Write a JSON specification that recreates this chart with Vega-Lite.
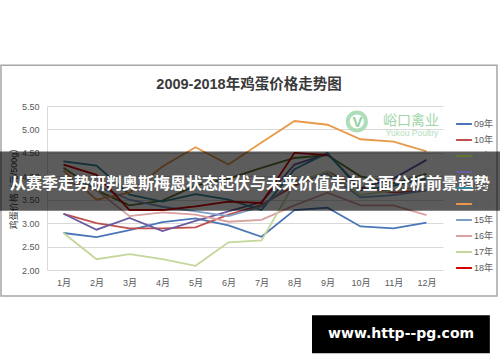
{
  "$schema": "https://vega.github.io/schema/vega-lite/v6.json",
  "width": 396,
  "height": 164,
  "autosize": {"type": "none"},
  "padding": {"left": 47, "top": 106, "right": 57, "bottom": 92},
  "background": "white",
  "config": {
    "view": {"stroke": null},
    "font": "Liberation Sans, Noto Sans CJK SC, sans-serif"
  },
  "title": {
    "text": "2009-2018年鸡蛋价格走势图",
    "fontSize": 14.5,
    "fontWeight": "bold",
    "color": "#3a3a3a",
    "font": "Liberation Sans, Noto Sans CJK SC",
    "anchor": "middle",
    "frame": "group",
    "offset": -28,
    "dx": 4
  },
  "datasets": {
    "eggs": [
      {"month": 1, "year": "09年", "price": 2.79}, {"month": 2, "year": "09年", "price": 2.70}, {"month": 3, "year": "09年", "price": 2.85}, {"month": 4, "year": "09年", "price": 3.02}, {"month": 5, "year": "09年", "price": 3.10}, {"month": 6, "year": "09年", "price": 2.95}, {"month": 7, "year": "09年", "price": 2.71}, {"month": 8, "year": "09年", "price": 3.28}, {"month": 9, "year": "09年", "price": 3.33}, {"month": 10, "year": "09年", "price": 2.93}, {"month": 11, "year": "09年", "price": 2.89}, {"month": 12, "year": "09年", "price": 3.01},
      {"month": 1, "year": "10年", "price": 3.20}, {"month": 2, "year": "10年", "price": 3.00}, {"month": 3, "year": "10年", "price": 2.89}, {"month": 4, "year": "10年", "price": 2.89}, {"month": 5, "year": "10年", "price": 2.91}, {"month": 6, "year": "10年", "price": 3.18}, {"month": 7, "year": "10年", "price": 3.39}, {"month": 8, "year": "10年", "price": 3.80}, {"month": 9, "year": "10年", "price": 4.10}, {"month": 10, "year": "10年", "price": 3.75}, {"month": 11, "year": "10年", "price": 3.65}, {"month": 12, "year": "10年", "price": 3.70},
      {"month": 1, "year": "11年", "price": 4.18}, {"month": 2, "year": "11年", "price": 3.70}, {"month": 3, "year": "11年", "price": 3.38}, {"month": 4, "year": "11年", "price": 3.48}, {"month": 5, "year": "11年", "price": 3.80}, {"month": 6, "year": "11年", "price": 3.95}, {"month": 7, "year": "11年", "price": 4.18}, {"month": 8, "year": "11年", "price": 4.39}, {"month": 9, "year": "11年", "price": 4.45}, {"month": 10, "year": "11年", "price": 4.00}, {"month": 11, "year": "11年", "price": 3.85}, {"month": 12, "year": "11年", "price": 4.05},
      {"month": 1, "year": "12年", "price": 3.20}, {"month": 2, "year": "12年", "price": 2.86}, {"month": 3, "year": "12年", "price": 3.11}, {"month": 4, "year": "12年", "price": 2.83}, {"month": 5, "year": "12年", "price": 3.05}, {"month": 6, "year": "12年", "price": 3.25}, {"month": 7, "year": "12年", "price": 3.45}, {"month": 8, "year": "12年", "price": 4.25}, {"month": 9, "year": "12年", "price": 4.48}, {"month": 10, "year": "12年", "price": 3.75}, {"month": 11, "year": "12年", "price": 3.95}, {"month": 12, "year": "12年", "price": 4.35},
      {"month": 1, "year": "13年", "price": 4.32}, {"month": 2, "year": "13年", "price": 4.23}, {"month": 3, "year": "13年", "price": 3.61}, {"month": 4, "year": "13年", "price": 3.46}, {"month": 5, "year": "13年", "price": 3.62}, {"month": 6, "year": "13年", "price": 3.50}, {"month": 7, "year": "13年", "price": 3.28}, {"month": 8, "year": "13年", "price": 4.15}, {"month": 9, "year": "13年", "price": 4.50}, {"month": 10, "year": "13年", "price": 3.70}, {"month": 11, "year": "13年", "price": 3.80}, {"month": 12, "year": "13年", "price": 3.95},
      {"month": 1, "year": "14年", "price": 4.12}, {"month": 2, "year": "14年", "price": 3.50}, {"month": 3, "year": "14年", "price": 3.65}, {"month": 4, "year": "14年", "price": 4.21}, {"month": 5, "year": "14年", "price": 4.62}, {"month": 6, "year": "14年", "price": 4.25}, {"month": 7, "year": "14年", "price": 4.72}, {"month": 8, "year": "14年", "price": 5.18}, {"month": 9, "year": "14年", "price": 5.10}, {"month": 10, "year": "14年", "price": 4.79}, {"month": 11, "year": "14年", "price": 4.74}, {"month": 12, "year": "14年", "price": 4.53},
      {"month": 1, "year": "15年", "price": 3.95}, {"month": 2, "year": "15年", "price": 3.80}, {"month": 3, "year": "15年", "price": 3.50}, {"month": 4, "year": "15年", "price": 3.35}, {"month": 5, "year": "15年", "price": 3.25}, {"month": 6, "year": "15年", "price": 3.15}, {"month": 7, "year": "15年", "price": 3.35}, {"month": 8, "year": "15年", "price": 3.90}, {"month": 9, "year": "15年", "price": 4.05}, {"month": 10, "year": "15年", "price": 3.55}, {"month": 11, "year": "15年", "price": 3.60}, {"month": 12, "year": "15年", "price": 3.70},
      {"month": 1, "year": "16年", "price": 3.90}, {"month": 2, "year": "16年", "price": 3.70}, {"month": 3, "year": "16年", "price": 3.15}, {"month": 4, "year": "16年", "price": 3.23}, {"month": 5, "year": "16年", "price": 3.18}, {"month": 6, "year": "16年", "price": 3.03}, {"month": 7, "year": "16年", "price": 3.07}, {"month": 8, "year": "16年", "price": 3.38}, {"month": 9, "year": "16年", "price": 3.65}, {"month": 10, "year": "16年", "price": 3.38}, {"month": 11, "year": "16年", "price": 3.38}, {"month": 12, "year": "16年", "price": 3.17},
      {"month": 1, "year": "17年", "price": 2.79}, {"month": 2, "year": "17年", "price": 2.23}, {"month": 3, "year": "17年", "price": 2.34}, {"month": 4, "year": "17年", "price": 2.23}, {"month": 5, "year": "17年", "price": 2.09}, {"month": 6, "year": "17年", "price": 2.59}, {"month": 7, "year": "17年", "price": 2.63}, {"month": 8, "year": "17年", "price": 3.85}, {"month": 9, "year": "17年", "price": 4.10}, {"month": 10, "year": "17年", "price": 3.60}, {"month": 11, "year": "17年", "price": 3.70}, {"month": 12, "year": "17年", "price": 3.80},
      {"month": 1, "year": "18年", "price": 4.25}, {"month": 2, "year": "18年", "price": 4.03}, {"month": 3, "year": "18年", "price": 3.28}, {"month": 4, "year": "18年", "price": 3.28}, {"month": 5, "year": "18年", "price": 3.36}, {"month": 6, "year": "18年", "price": 3.46}, {"month": 7, "year": "18年", "price": 3.43}, {"month": 8, "year": "18年", "price": 4.50}, {"month": 9, "year": "18年", "price": 4.45}
    ]
  },
  "layer": [
    {
      "data": {"values": [{}]},
      "mark": {"type": "rect", "fill": null, "stroke": "#a6a6a6", "strokeWidth": 1.5, "clip": false},
      "encoding": {
        "x": {"datum": -0.894, "type": "quantitative", "scale": {"domain": [0.5, 12.5], "nice": false, "zero": false},
          "axis": {"title": null, "values": [1,2,3,4,5,6,7,8,9,10,11,12], "labelExpr": "datum.value + '月'", "grid": false, "domain": false, "ticks": false, "labelPadding": 8, "labelFontSize": 9, "labelColor": "#595959", "labelFont": "Liberation Sans, Noto Sans CJK SC"}},
        "x2": {"datum": 14.136},
        "y": {"datum": 6.368, "type": "quantitative", "scale": {"domain": [2, 5.5], "nice": false, "zero": false},
          "axis": {"title": "鸡蛋价格（元/500g）", "titleFontSize": 9, "titleFontWeight": "normal", "titleColor": "#333333", "titleX": -34, "titleY": 80, "titleAngle": -90, "titleAlign": "center", "titleBaseline": "middle", "titleFont": "Liberation Sans, Noto Sans CJK SC", "values": [2, 2.5, 3, 3.5, 4, 4.5, 5, 5.5], "format": ".2f", "grid": true, "gridColor": "#d9d9d9", "domain": true, "domainColor": "#d9d9d9", "ticks": false, "labelPadding": 8, "labelFontSize": 9, "labelColor": "#595959", "labelFont": "Liberation Sans"}},
        "y2": {"datum": 1.443}
      }
    },
    {
      "data": {"name": "eggs"},
      "mark": {"type": "line", "strokeWidth": 1.8, "interpolate": "linear"},
      "encoding": {
        "x": {"field": "month", "type": "quantitative", "scale": {"domain": [0.5, 12.5], "nice": false, "zero": false},
          "axis": {"title": null, "values": [1,2,3,4,5,6,7,8,9,10,11,12], "labelExpr": "datum.value + '月'", "grid": false, "domain": false, "ticks": false, "labelPadding": 8, "labelFontSize": 9, "labelColor": "#595959", "labelFont": "Liberation Sans, Noto Sans CJK SC"}},
        "y": {"field": "price", "type": "quantitative", "scale": {"domain": [2, 5.5], "nice": false, "zero": false},
          "axis": {"title": "鸡蛋价格（元/500g）", "titleFontSize": 9, "titleFontWeight": "normal", "titleColor": "#333333", "titleX": -34, "titleY": 80, "titleAngle": -90, "titleAlign": "center", "titleBaseline": "middle", "titleFont": "Liberation Sans, Noto Sans CJK SC", "values": [2, 2.5, 3, 3.5, 4, 4.5, 5, 5.5], "format": ".2f", "grid": true, "gridColor": "#d9d9d9", "domain": true, "domainColor": "#d9d9d9", "ticks": false, "labelPadding": 8, "labelFontSize": 9, "labelColor": "#595959", "labelFont": "Liberation Sans"}},
        "color": {
          "field": "year", "type": "nominal",
          "scale": {
            "domain": ["09年","10年","11年","12年","13年","14年","15年","16年","17年","18年"],
            "range": ["#4a76b8","#c0504d","#5f7530","#6a5a9e","#31859c","#e8994a","#7f9fc8","#d9a0a0","#c4d79b","#d40000"]
          },
          "legend": {
            "title": null, "orient": "none", "legendX": 408, "legendY": 12,
            "symbolType": "stroke", "symbolStrokeWidth": 2, "symbolSize": 250,
            "labelFontSize": 9, "labelColor": "#595959", "labelOffset": 1,
            "rowPadding": 4.0, "clipHeight": 12, "padding": 0
          }
        },
        "order": {"field": "month", "type": "quantitative"}
      }
    },
    {
      "data": {"values": [{}]},
      "mark": {"type": "point", "shape": "circle", "filled": false, "stroke": "#a6dbb0", "strokeWidth": 4, "size": 330, "opacity": 0.9, "clip": false},
      "encoding": {
        "x": {"datum": 9.89, "type": "quantitative", "scale": {"domain": [0.5, 12.5], "nice": false, "zero": false},
          "axis": {"title": null, "values": [1,2,3,4,5,6,7,8,9,10,11,12], "labelExpr": "datum.value + '月'", "grid": false, "domain": false, "ticks": false, "labelPadding": 8, "labelFontSize": 9, "labelColor": "#595959", "labelFont": "Liberation Sans, Noto Sans CJK SC"}},
        "y": {"datum": 5.17, "type": "quantitative", "scale": {"domain": [2, 5.5], "nice": false, "zero": false},
          "axis": {"title": "鸡蛋价格（元/500g）", "titleFontSize": 9, "titleFontWeight": "normal", "titleColor": "#333333", "titleX": -34, "titleY": 80, "titleAngle": -90, "titleAlign": "center", "titleBaseline": "middle", "titleFont": "Liberation Sans, Noto Sans CJK SC", "values": [2, 2.5, 3, 3.5, 4, 4.5, 5, 5.5], "format": ".2f", "grid": true, "gridColor": "#d9d9d9", "domain": true, "domainColor": "#d9d9d9", "ticks": false, "labelPadding": 8, "labelFontSize": 9, "labelColor": "#595959", "labelFont": "Liberation Sans"}}
      }
    },
    {
      "data": {"values": [{}]},
      "mark": {"type": "text", "text": "V", "fontSize": 15, "fontWeight": "bold", "color": "#8fd19e", "clip": false, "font": "Liberation Sans"},
      "encoding": {
        "x": {"datum": 9.91, "type": "quantitative", "scale": {"domain": [0.5, 12.5], "nice": false, "zero": false},
          "axis": {"title": null, "values": [1,2,3,4,5,6,7,8,9,10,11,12], "labelExpr": "datum.value + '月'", "grid": false, "domain": false, "ticks": false, "labelPadding": 8, "labelFontSize": 9, "labelColor": "#595959", "labelFont": "Liberation Sans, Noto Sans CJK SC"}},
        "y": {"datum": 5.15, "type": "quantitative", "scale": {"domain": [2, 5.5], "nice": false, "zero": false},
          "axis": {"title": "鸡蛋价格（元/500g）", "titleFontSize": 9, "titleFontWeight": "normal", "titleColor": "#333333", "titleX": -34, "titleY": 80, "titleAngle": -90, "titleAlign": "center", "titleBaseline": "middle", "titleFont": "Liberation Sans, Noto Sans CJK SC", "values": [2, 2.5, 3, 3.5, 4, 4.5, 5, 5.5], "format": ".2f", "grid": true, "gridColor": "#d9d9d9", "domain": true, "domainColor": "#d9d9d9", "ticks": false, "labelPadding": 8, "labelFontSize": 9, "labelColor": "#595959", "labelFont": "Liberation Sans"}}
      }
    },
    {
      "data": {"values": [{}]},
      "mark": {"type": "text", "text": "峪口禽业", "fontSize": 14, "color": "#9fd6a8", "clip": false, "font": "Noto Sans CJK SC"},
      "encoding": {
        "x": {"datum": 11.53, "type": "quantitative", "scale": {"domain": [0.5, 12.5], "nice": false, "zero": false},
          "axis": {"title": null, "values": [1,2,3,4,5,6,7,8,9,10,11,12], "labelExpr": "datum.value + '月'", "grid": false, "domain": false, "ticks": false, "labelPadding": 8, "labelFontSize": 9, "labelColor": "#595959", "labelFont": "Liberation Sans, Noto Sans CJK SC"}},
        "y": {"datum": 5.19, "type": "quantitative", "scale": {"domain": [2, 5.5], "nice": false, "zero": false},
          "axis": {"title": "鸡蛋价格（元/500g）", "titleFontSize": 9, "titleFontWeight": "normal", "titleColor": "#333333", "titleX": -34, "titleY": 80, "titleAngle": -90, "titleAlign": "center", "titleBaseline": "middle", "titleFont": "Liberation Sans, Noto Sans CJK SC", "values": [2, 2.5, 3, 3.5, 4, 4.5, 5, 5.5], "format": ".2f", "grid": true, "gridColor": "#d9d9d9", "domain": true, "domainColor": "#d9d9d9", "ticks": false, "labelPadding": 8, "labelFontSize": 9, "labelColor": "#595959", "labelFont": "Liberation Sans"}}
      }
    },
    {
      "data": {"values": [{}]},
      "mark": {"type": "text", "text": "Yukou Poultry", "fontSize": 8.5, "color": "#b5ddbb", "clip": false, "font": "Liberation Sans"},
      "encoding": {
        "x": {"datum": 11.56, "type": "quantitative", "scale": {"domain": [0.5, 12.5], "nice": false, "zero": false},
          "axis": {"title": null, "values": [1,2,3,4,5,6,7,8,9,10,11,12], "labelExpr": "datum.value + '月'", "grid": false, "domain": false, "ticks": false, "labelPadding": 8, "labelFontSize": 9, "labelColor": "#595959", "labelFont": "Liberation Sans, Noto Sans CJK SC"}},
        "y": {"datum": 4.93, "type": "quantitative", "scale": {"domain": [2, 5.5], "nice": false, "zero": false},
          "axis": {"title": "鸡蛋价格（元/500g）", "titleFontSize": 9, "titleFontWeight": "normal", "titleColor": "#333333", "titleX": -34, "titleY": 80, "titleAngle": -90, "titleAlign": "center", "titleBaseline": "middle", "titleFont": "Liberation Sans, Noto Sans CJK SC", "values": [2, 2.5, 3, 3.5, 4, 4.5, 5, 5.5], "format": ".2f", "grid": true, "gridColor": "#d9d9d9", "domain": true, "domainColor": "#d9d9d9", "ticks": false, "labelPadding": 8, "labelFontSize": 9, "labelColor": "#595959", "labelFont": "Liberation Sans"}}
      }
    },
    {
      "data": {"values": [{}]},
      "mark": {"type": "rect", "fill": "#000000", "opacity": 0.64, "clip": false},
      "encoding": {
        "x": {"datum": -1, "type": "quantitative", "scale": {"domain": [0.5, 12.5], "nice": false, "zero": false},
          "axis": {"title": null, "values": [1,2,3,4,5,6,7,8,9,10,11,12], "labelExpr": "datum.value + '月'", "grid": false, "domain": false, "ticks": false, "labelPadding": 8, "labelFontSize": 9, "labelColor": "#595959", "labelFont": "Liberation Sans, Noto Sans CJK SC"}},
        "x2": {"datum": 14.5},
        "y": {"datum": 4.527, "type": "quantitative", "scale": {"domain": [2, 5.5], "nice": false, "zero": false},
          "axis": {"title": "鸡蛋价格（元/500g）", "titleFontSize": 9, "titleFontWeight": "normal", "titleColor": "#333333", "titleX": -34, "titleY": 80, "titleAngle": -90, "titleAlign": "center", "titleBaseline": "middle", "titleFont": "Liberation Sans, Noto Sans CJK SC", "values": [2, 2.5, 3, 3.5, 4, 4.5, 5, 5.5], "format": ".2f", "grid": true, "gridColor": "#d9d9d9", "domain": true, "domainColor": "#d9d9d9", "ticks": false, "labelPadding": 8, "labelFontSize": 9, "labelColor": "#595959", "labelFont": "Liberation Sans"}},
        "y2": {"datum": 3.263}
      }
    },
    {
      "data": {"values": [{}]},
      "mark": {"type": "text", "text": "从赛季走势研判奥斯梅恩状态起伏与未来价值走向全面分析前景趋势", "fontSize": 16, "fontWeight": "bold", "color": "#ffffff", "clip": false, "font": "Noto Sans CJK SC", "baseline": "middle"},
      "encoding": {
        "x": {"datum": 6.65, "type": "quantitative", "scale": {"domain": [0.5, 12.5], "nice": false, "zero": false},
          "axis": {"title": null, "values": [1,2,3,4,5,6,7,8,9,10,11,12], "labelExpr": "datum.value + '月'", "grid": false, "domain": false, "ticks": false, "labelPadding": 8, "labelFontSize": 9, "labelColor": "#595959", "labelFont": "Liberation Sans, Noto Sans CJK SC"}},
        "y": {"datum": 3.83, "type": "quantitative", "scale": {"domain": [2, 5.5], "nice": false, "zero": false},
          "axis": {"title": "鸡蛋价格（元/500g）", "titleFontSize": 9, "titleFontWeight": "normal", "titleColor": "#333333", "titleX": -34, "titleY": 80, "titleAngle": -90, "titleAlign": "center", "titleBaseline": "middle", "titleFont": "Liberation Sans, Noto Sans CJK SC", "values": [2, 2.5, 3, 3.5, 4, 4.5, 5, 5.5], "format": ".2f", "grid": true, "gridColor": "#d9d9d9", "domain": true, "domainColor": "#d9d9d9", "ticks": false, "labelPadding": 8, "labelFontSize": 9, "labelColor": "#595959", "labelFont": "Liberation Sans"}}
      }
    },
    {
      "data": {"values": [{}]},
      "mark": {"type": "rect", "fill": "#000000", "clip": false},
      "encoding": {
        "x": {"datum": 8.53, "type": "quantitative", "scale": {"domain": [0.5, 12.5], "nice": false, "zero": false},
          "axis": {"title": null, "values": [1,2,3,4,5,6,7,8,9,10,11,12], "labelExpr": "datum.value + '月'", "grid": false, "domain": false, "ticks": false, "labelPadding": 8, "labelFontSize": 9, "labelColor": "#595959", "labelFont": "Liberation Sans, Noto Sans CJK SC"}},
        "x2": {"datum": 13.92},
        "y": {"datum": 1.036, "type": "quantitative", "scale": {"domain": [2, 5.5], "nice": false, "zero": false},
          "axis": {"title": "鸡蛋价格（元/500g）", "titleFontSize": 9, "titleFontWeight": "normal", "titleColor": "#333333", "titleX": -34, "titleY": 80, "titleAngle": -90, "titleAlign": "center", "titleBaseline": "middle", "titleFont": "Liberation Sans, Noto Sans CJK SC", "values": [2, 2.5, 3, 3.5, 4, 4.5, 5, 5.5], "format": ".2f", "grid": true, "gridColor": "#d9d9d9", "domain": true, "domainColor": "#d9d9d9", "ticks": false, "labelPadding": 8, "labelFontSize": 9, "labelColor": "#595959", "labelFont": "Liberation Sans"}},
        "y2": {"datum": 0.223}
      }
    },
    {
      "data": {"values": [{}]},
      "mark": {"type": "text", "text": "www.http--pg.com", "fontSize": 14, "fontWeight": "bold", "color": "#ffffff", "clip": false, "font": "DejaVu Sans", "baseline": "middle"},
      "encoding": {
        "x": {"datum": 11.23, "type": "quantitative", "scale": {"domain": [0.5, 12.5], "nice": false, "zero": false},
          "axis": {"title": null, "values": [1,2,3,4,5,6,7,8,9,10,11,12], "labelExpr": "datum.value + '月'", "grid": false, "domain": false, "ticks": false, "labelPadding": 8, "labelFontSize": 9, "labelColor": "#595959", "labelFont": "Liberation Sans, Noto Sans CJK SC"}},
        "y": {"datum": 0.63, "type": "quantitative", "scale": {"domain": [2, 5.5], "nice": false, "zero": false},
          "axis": {"title": "鸡蛋价格（元/500g）", "titleFontSize": 9, "titleFontWeight": "normal", "titleColor": "#333333", "titleX": -34, "titleY": 80, "titleAngle": -90, "titleAlign": "center", "titleBaseline": "middle", "titleFont": "Liberation Sans, Noto Sans CJK SC", "values": [2, 2.5, 3, 3.5, 4, 4.5, 5, 5.5], "format": ".2f", "grid": true, "gridColor": "#d9d9d9", "domain": true, "domainColor": "#d9d9d9", "ticks": false, "labelPadding": 8, "labelFontSize": 9, "labelColor": "#595959", "labelFont": "Liberation Sans"}}
      }
    }
  ]
}
